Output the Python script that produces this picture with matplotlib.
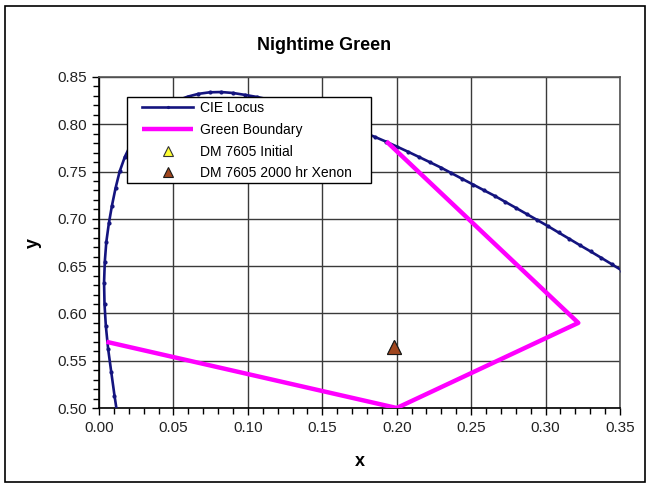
import matplotlib
matplotlib.use("Agg")
import matplotlib.pyplot as plt
from matplotlib.patches import Rectangle
from matplotlib.ticker import MultipleLocator, FormatStrFormatter

plt.rcParams['font.family'] = ['Liberation Sans', 'DejaVu Sans']

# CIE 1931 spectrum locus (approx. 1 nm steps, 495-560 nm)
locus_x = [0.0235, 0.0195, 0.0158, 0.0128, 0.0104, 0.0082,
           0.0061, 0.0046, 0.0037, 0.0034, 0.0039,
           0.0049, 0.0066, 0.0087, 0.0111, 0.0139,
           0.0174, 0.0216, 0.0266, 0.0323, 0.0389,
           0.0455, 0.0524, 0.0595, 0.0668, 0.0743,
           0.0821, 0.0900, 0.0980, 0.1061, 0.1142,
           0.1223, 0.1304, 0.1385, 0.1466, 0.1547,
           0.1625, 0.1702, 0.1778, 0.1854, 0.1929,
           0.2003, 0.2077, 0.2150, 0.2223, 0.2296,
           0.2368, 0.2440, 0.2513, 0.2585, 0.2658,
           0.2730, 0.2802, 0.2873, 0.2945, 0.3016,
           0.3087, 0.3159, 0.3230, 0.3302, 0.3373,
           0.3445, 0.3516, 0.3588, 0.3659, 0.3731]
locus_y = [0.4127, 0.4379, 0.4630, 0.4881, 0.5132, 0.5384,
           0.5629, 0.5867, 0.6099, 0.6327, 0.6548,
           0.6754, 0.6951, 0.7140, 0.7324, 0.7502,
           0.7657, 0.7794, 0.7914, 0.8020, 0.8120,
           0.8195, 0.8250, 0.8292, 0.8322, 0.8338,
           0.8341, 0.8331, 0.8311, 0.8289, 0.8262,
           0.8227, 0.8189, 0.8147, 0.8104, 0.8059,
           0.8012, 0.7964, 0.7915, 0.7866, 0.7816,
           0.7763, 0.7709, 0.7654, 0.7599, 0.7543,
           0.7483, 0.7423, 0.7363, 0.7303, 0.7243,
           0.7179, 0.7115, 0.7051, 0.6987, 0.6923,
           0.6856, 0.6789, 0.6722, 0.6656, 0.6589,
           0.6520, 0.6451, 0.6383, 0.6314, 0.6245]

# Green boundary polygon
boundary_x = [0.193, 0.322, 0.200, 0.005]
boundary_y = [0.782, 0.590, 0.500, 0.570]

# Measurements
initial_x = [0.1985]
initial_y = [0.5650]
xenon_x = [0.1980]
xenon_y = [0.5645]

fig = plt.figure(figsize=(6.49, 4.87), dpi=100)
fig.patches.append(Rectangle((5/649, 1-482/487), 640/649, 476/487,
                             transform=fig.transFigure, fill=False,
                             edgecolor='black', linewidth=1.2))
ax = fig.add_axes([99/649, 1-408/487, 521/649, 331/487])

ax.plot(locus_x, locus_y, color='#14147f', lw=1.9, marker='o', ms=2.0,
        label='CIE Locus', zorder=3)
ax.plot(boundary_x, boundary_y, color='#ff00ff', lw=3.2,
        label='Green Boundary', zorder=4, solid_capstyle='butt')
ax.plot(initial_x, initial_y, linestyle='none', marker='^', ms=10,
        markerfacecolor='#ffff33', markeredgecolor='#333333', mew=0.8,
        label='DM 7605 Initial', zorder=5)
ax.plot(xenon_x, xenon_y, linestyle='none', marker='^', ms=10,
        markerfacecolor='#a0461e', markeredgecolor='#1a1a1a', mew=0.8,
        label='DM 7605 2000 hr Xenon', zorder=6)

ax.set_xlim(0, 0.35)
ax.set_ylim(0.50, 0.85)
ax.xaxis.set_major_locator(MultipleLocator(0.05))
ax.yaxis.set_major_locator(MultipleLocator(0.05))
ax.xaxis.set_minor_locator(MultipleLocator(0.01))
ax.yaxis.set_minor_locator(MultipleLocator(0.01))
ax.xaxis.set_major_formatter(FormatStrFormatter('%.2f'))
ax.yaxis.set_major_formatter(FormatStrFormatter('%.2f'))
ax.grid(True, which='major', color='#3a3a3a', lw=1.0, zorder=0)
ax.set_axisbelow(True)
ax.tick_params(which='major', direction='out', length=5, width=1,
               labelsize=11, colors='black', pad=4)
ax.tick_params(which='minor', direction='out', length=4, width=1)
ax.tick_params(axis='both', labelcolor='#222222')
for s in ['left', 'bottom']:
    ax.spines[s].set_color('black')
    ax.spines[s].set_linewidth(1.2)
for s in ['top', 'right']:
    ax.spines[s].set_color('#555555')
    ax.spines[s].set_linewidth(1.2)

ax.set_xlabel('x', fontsize=13, fontweight='bold', labelpad=13)
ax.set_ylabel('y', fontsize=13, fontweight='bold', labelpad=11, rotation=90)
fig.text(0.5, 1-45/487, 'Nightime Green', ha='center', va='center',
         fontsize=13, fontweight='bold')

# legend frame drawn manually for exact placement
ax.add_patch(Rectangle((28/521, 1-106/331), 244/521, 86/331,
                       transform=ax.transAxes, facecolor='white',
                       edgecolor='black', linewidth=1.0, zorder=9,
                       clip_on=False))
leg = ax.legend(loc='upper left', bbox_to_anchor=(43/521, 1-(101-77)/331),
                fontsize=10, frameon=False, handlelength=3.7,
                borderpad=0, labelspacing=0.56, handletextpad=0.5,
                borderaxespad=0, markerscale=0.65)
leg.set_zorder(10)

fig.savefig('out.png', dpi=100)
